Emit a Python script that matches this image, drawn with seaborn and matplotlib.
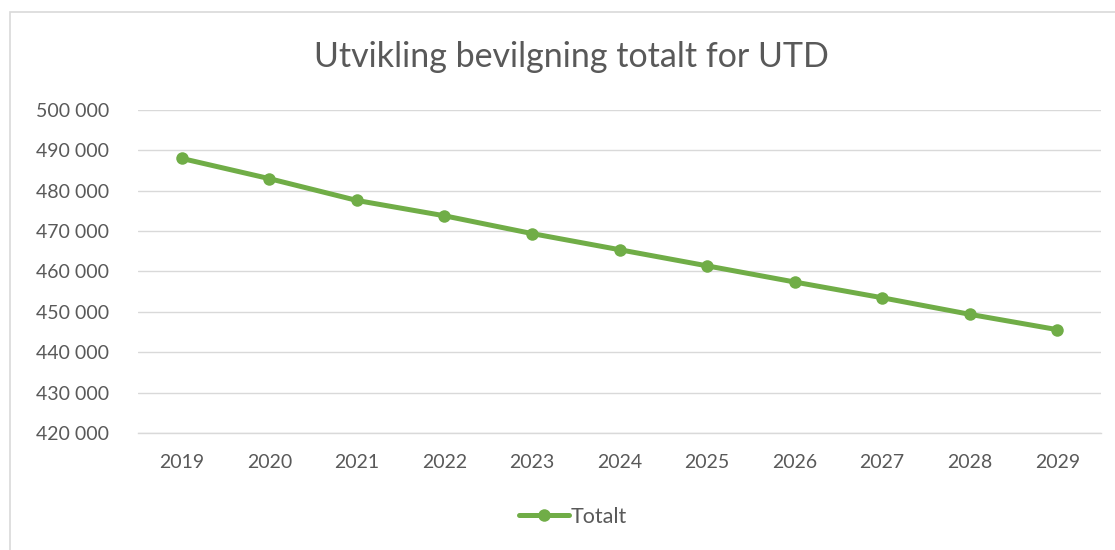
import matplotlib
matplotlib.use("Agg")
import matplotlib.pyplot as plt
import matplotlib.ticker as mticker
import seaborn as sns
import pandas as pd

# data
years = ["2019", "2020", "2021", "2022", "2023", "2024", "2025", "2026", "2027", "2028", "2029"]
totalt = [488000, 483000, 477600, 473800, 469400, 465400, 461400, 457400, 453500, 449400, 445600]
series_name = "Totalt"

df = pd.DataFrame({"pos": range(len(years)), "value": totalt, "serie": series_name})

sns.set_theme(style="white")
plt.rcParams["font.family"] = ["Lato", "DejaVu Sans"]

green = "#70AD47"
grey = "#595959"

fig = plt.figure(figsize=(11.15, 5.5), dpi=100)
ax = fig.add_axes([138 / 1115, 1 - 433 / 550, (1101 - 138) / 1115, (433 - 110) / 550])

sns.lineplot(data=df, x="pos", y="value", hue="serie", palette=[green], ax=ax,
             marker="o", markersize=9, linewidth=3.6, markeredgewidth=0)

ax.set_xlim(-0.5, len(years) - 0.5)
ax.set_ylim(420000, 500000)
ax.set_yticks(range(420000, 500001, 10000))
ax.yaxis.set_major_formatter(mticker.FuncFormatter(lambda v, p: f"{int(v):,}".replace(",", " ")))
ax.set_xticks(range(len(years)))
ax.set_xticklabels(years)
ax.set_xlabel("")
ax.set_ylabel("")

ax.grid(axis="y", color="#D9D9D9", linewidth=1.0)
ax.set_axisbelow(True)
for s in ["top", "right", "left"]:
    ax.spines[s].set_visible(False)
ax.spines["bottom"].set_color("#D9D9D9")
ax.spines["bottom"].set_linewidth(1.0)
ax.tick_params(axis="y", length=0, pad=21, labelsize=14, labelcolor=grey)
ax.tick_params(axis="x", length=0, pad=15, labelsize=14, labelcolor=grey)

fig.text(571 / 1115, 1 - 57 / 550, "Utvikling bevilgning totalt for UTD",
         ha="center", va="center", fontsize=24.5, color=grey)

handles, labels = ax.get_legend_handles_labels()
ax.legend(handles, labels, loc="center", bbox_to_anchor=(573 / 1115, 1 - 517 / 550),
          bbox_transform=fig.transFigure, frameon=False, fontsize=15.5,
          labelcolor=grey, handlelength=2.3, handletextpad=0.1)

# chart border like the spreadsheet frame
fig.patches.append(plt.Rectangle((10 / 1115, -0.1), 1.2, 1 - 12 / 550 + 0.1,
                                 transform=fig.transFigure, fill=False,
                                 edgecolor="#D9D9D9", linewidth=1.2))

fig.savefig("out.png", dpi=100)
